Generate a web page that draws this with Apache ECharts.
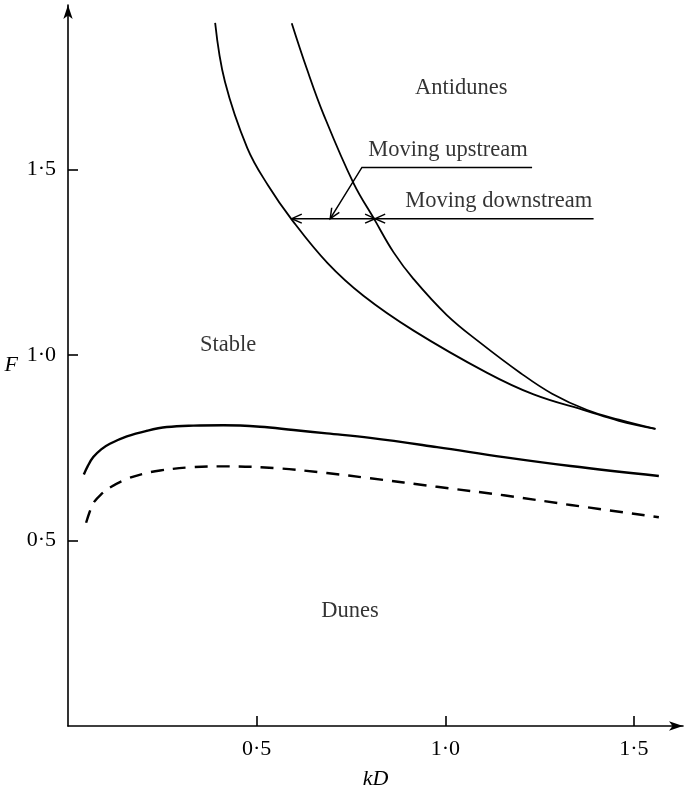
<!DOCTYPE html>
<html>
<head>
<meta charset="utf-8">
<script src="https://cdn.jsdelivr.net/npm/echarts@6/dist/echarts.min.js"></script>
<style>
  html, body { margin: 0; padding: 0; background: #fff; }
  #chart { width: 684px; height: 795px; }
</style>
</head>
<body>
<div id="chart"></div>
<script>
// Tick values on both axes
const xTicks = [0.5, 1.0, 1.5];
const yTicks = [0.5, 1.0, 1.5];

// Antidune boundary curves (kD, F)
const antiduneInner = [
  [0.390, 1.896], [0.416, 1.737], [0.475, 1.559], [0.530, 1.458],
  [0.594, 1.364], [0.688, 1.248], [0.783, 1.160], [0.916, 1.066],
  [1.111, 0.952], [1.234, 0.894], [1.376, 0.849], [1.460, 0.823],
  [1.557, 0.801]
];
const antiduneOuter = [
  [0.593, 1.895], [0.633, 1.772], [0.677, 1.650], [0.757, 1.463],
  [0.812, 1.366], [0.863, 1.277], [0.916, 1.205], [1.004, 1.108],
  [1.093, 1.033], [1.199, 0.952], [1.283, 0.896], [1.376, 0.852],
  [1.460, 0.826], [1.557, 0.801]
];

// Upper limit of the dune region
const duneUpper = [
  [0.042, 0.678], [0.052, 0.700], [0.067, 0.725], [0.088, 0.746],
  [0.111, 0.761], [0.156, 0.781], [0.209, 0.796], [0.262, 0.806],
  [0.332, 0.810], [0.412, 0.811], [0.509, 0.807], [0.598, 0.798],
  [0.686, 0.789], [0.801, 0.777], [0.978, 0.752], [1.155, 0.725],
  [1.332, 0.701], [1.566, 0.674]
];
// Dashed curve beneath it
const duneDashed = [
  [0.048, 0.548], [0.058, 0.579], [0.067, 0.601], [0.088, 0.625],
  [0.111, 0.643], [0.156, 0.666], [0.200, 0.680], [0.244, 0.689],
  [0.332, 0.698], [0.421, 0.700], [0.553, 0.695], [0.686, 0.682],
  [0.801, 0.668], [0.978, 0.645], [1.155, 0.622], [1.332, 0.596],
  [1.566, 0.563]
];

// Leader lines for the annotations
const upstreamLeader = [[1.230, 1.506], [0.779, 1.506], [0.695, 1.368]];
const spanArrow = [[0.814, 1.368], [0.593, 1.368]];
const downstreamLeader = [[1.393, 1.368], [0.814, 1.368]];

// Region names and annotation texts
const labelTexts = ['Antidunes', 'Moving upstream', 'Moving downstream', 'Stable', 'Dunes'];
const labelAnchors = [[0.920, 1.721], [0.796, 1.553], [0.894, 1.415], [0.350, 1.027], [0.671, 0.309]];

const SERIF = '"Liberation Serif", "DejaVu Serif", serif';
const fmt = v => v.toFixed(1).replace('.', '\u00b7');

const leaders = [
  { pts: upstreamLeader, heads: [false, true] },
  { pts: spanArrow, heads: [true, true] },
  { pts: downstreamLeader, heads: [false, true] }
];

function arrowHead(tip, from, len, half) {
  const dx = tip[0] - from[0], dy = tip[1] - from[1];
  const d = Math.hypot(dx, dy) || 1;
  const ux = dx / d, uy = dy / d;
  const c = Math.cos(half), s = Math.sin(half);
  const b1 = [tip[0] - len * (ux * c - uy * s), tip[1] - len * (uy * c + ux * s)];
  const b2 = [tip[0] - len * (ux * c + uy * s), tip[1] - len * (uy * c - ux * s)];
  return [b1, tip, b2];
}

const chart = echarts.init(document.getElementById('chart'), null, { renderer: 'canvas' });

const axisCommon = {
  type: 'value',
  min: 0,
  splitLine: { show: false },
  axisLine: {
    show: true,
    symbol: ['none', 'arrow'],
    symbolSize: [7, 14],
    lineStyle: { color: '#000', width: 1.6 }
  },
  axisTick: { show: true, inside: true, length: 10, lineStyle: { color: '#000', width: 1.6 } },
  axisLabel: { color: '#000', fontFamily: SERIF, fontSize: 22, margin: 12, formatter: fmt },
  nameTextStyle: { color: '#000', fontFamily: SERIF, fontSize: 22, fontStyle: 'italic' }
};

const curveLine = (data, width, type) => ({
  type: 'line', data: data, showSymbol: false, symbol: 'none',
  smooth: 0.4,
  lineStyle: { color: '#000', width: width, type: type || 'solid' }
});

chart.setOption({
  animation: false,
  backgroundColor: '#fff',
  grid: { left: 68, right: 1, top: 5, bottom: 59, containLabel: false },
  xAxis: Object.assign({}, axisCommon, {
    max: 1.63,
    name: 'kD',
    nameLocation: 'middle',
    nameGap: 42,
    axisTick: Object.assign({}, axisCommon.axisTick, { customValues: xTicks }),
    axisLabel: Object.assign({}, axisCommon.axisLabel, { customValues: xTicks })
  }),
  yAxis: Object.assign({}, axisCommon, {
    max: 1.944,
    name: 'F',
    nameLocation: 'middle',
    nameRotate: 0,
    nameGap: 50,
    axisTick: Object.assign({}, axisCommon.axisTick, { customValues: yTicks }),
    axisLabel: Object.assign({}, axisCommon.axisLabel, { customValues: yTicks })
  }),
  series: [
    curveLine(antiduneInner, 1.8),
    curveLine(antiduneOuter, 1.8),
    curveLine(duneUpper, 2.4),
    curveLine(duneDashed, 2.4, [13, 9]),
    {
      type: 'custom',
      data: leaders.map((l, i) => [l.pts[0][0], l.pts[0][1], i]),
      encode: { x: 0, y: 1 },
      silent: true,
      renderItem: function (params, api) {
        const L = leaders[api.value(2)];
        const p = L.pts.map(q => api.coord(q));
        const style = { stroke: '#000', lineWidth: 1.5, fill: null };
        const children = [{ type: 'polyline', shape: { points: p }, style: style }];
        if (L.heads[0]) {
          children.push({ type: 'polyline', shape: { points: arrowHead(p[0], p[1], 11, 0.42) }, style: style });
        }
        if (L.heads[1]) {
          const n = p.length;
          children.push({ type: 'polyline', shape: { points: arrowHead(p[n - 1], p[n - 2], 11, 0.42) }, style: style });
        }
        return { type: 'group', children: children };
      }
    },
    {
      type: 'scatter',
      data: labelAnchors.map((a, i) => ({ value: a, name: labelTexts[i] })),
      symbolSize: 0,
      silent: true,
      label: {
        show: true,
        position: 'right',
        distance: 0,
        formatter: '{b}',
        color: '#000',
        fontFamily: SERIF,
        fontSize: 22.5
      }
    }
  ]
});
</script>
</body>
</html>
